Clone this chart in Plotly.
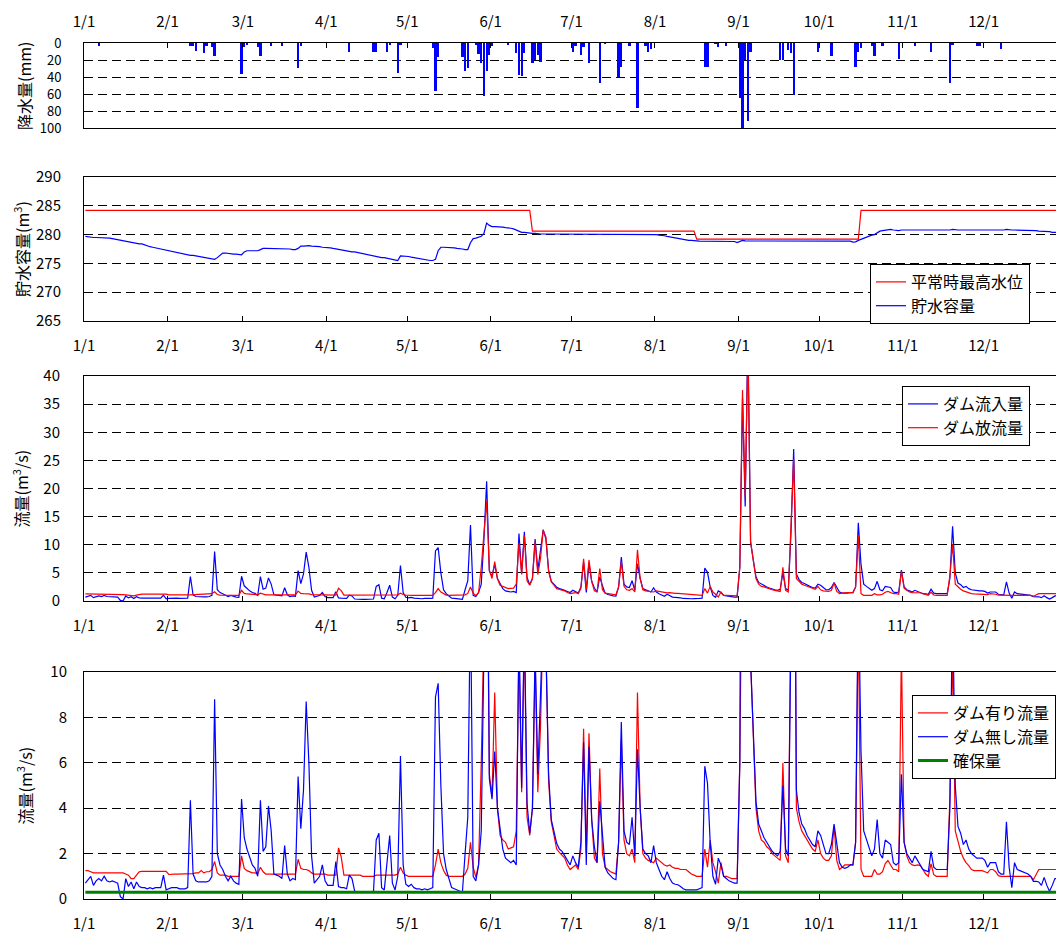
import plotly.graph_objects as go

W, H = 1056, 933
FONT = "Noto Sans CJK JP"

MONTH_TICKS = [0, 31, 59, 90, 120, 151, 181, 212, 243, 273, 304, 334]
MONTH_LABELS = ["1/1", "2/1", "3/1", "4/1", "5/1", "6/1", "7/1", "8/1", "9/1", "10/1", "11/1", "12/1"]

# daily rainfall (mm), Jan 1 .. Dec 31
RAIN_MM = [
    0,0,0,0,0,3,0,0,0,0, 0,0,0,0,0,0,0,0,0,0, 0,0,0,0,0,0,0,0,0,0, 0,
    0,0,0,0,0,0,0,0,4,4, 9,0,0,12,4,0,5,15,0,0, 0,0,0,0,0,0,0,37,
    5,2,0,0,0,5,15,0,0,0, 3,0,0,0,4,0,0,0,0,0, 29,3,0,0,0,0,0,0,0,0, 0,
    0,0,0,0,0,0,0,0,10,0, 0,0,0,0,0,0,0,10,11,0, 0,0,11,2,0,0,35,2,0,0,
    0,0,0,0,0,0,0,0,0,6, 57,16,0,0,0,0,0,0,0,0, 17,33,29,0,0,2,13,24,62,33, 14,
    3,0,0,0,0,0,2,0,0,12, 38,39,12,0,0,24,20,14,22,0, 0,0,0,0,0,0,0,0,0,0,
    11,4,0,14,5,0,23,0,0,0, 47,0,1,0,0,0,0,40,28,0, 0,3,0,0,77,0,0,4,11,7, 0,
    0,0,0,0,0,0,0,0,0,0, 0,0,0,0,0,0,0,0,28,28, 0,0,1,5,0,0,4,0,0,0, 0,
    65,103,20,92,11,0,0,0,0,0, 0,0,0,0,0,20,20,0,8,12, 61,0,0,0,0,0,0,0,0,10,
    0,0,0,0,15,0,0,0,0,0, 0,0,0,28,11,6,0,0,0,4, 15,0,0,3,0,0,0,0,0,19, 0,
    0,0,0,0,3,0,0,0,0,0, 11,0,0,0,0,0,0,47,2,0, 0,0,0,0,0,0,0,3,3,0,
    0,0,0,0,0,0,7,0,0,0, 0,0,0,0,0,0,0,0,0,0, 0,0,0,0,0,0,0,0,0,0, 0,
]

# normal-time maximum water level (storage units)
MAX_LEVEL = [
    284.2,284.2,284.2,284.2,284.2,284.2,284.2,284.2,284.2,284.2, 284.2,284.2,284.2,284.2,284.2,284.2,284.2,284.2,284.2,284.2, 284.2,284.2,284.2,284.2,284.2,284.2,284.2,284.2,284.2,284.2, 284.2,
    284.2,284.2,284.2,284.2,284.2,284.2,284.2,284.2,284.2,284.2, 284.2,284.2,284.2,284.2,284.2,284.2,284.2,284.2,284.2,284.2, 284.2,284.2,284.2,284.2,284.2,284.2,284.2,284.2,
    284.2,284.2,284.2,284.2,284.2,284.2,284.2,284.2,284.2,284.2, 284.2,284.2,284.2,284.2,284.2,284.2,284.2,284.2,284.2,284.2, 284.2,284.2,284.2,284.2,284.2,284.2,284.2,284.2,284.2,284.2, 284.2,
    284.2,284.2,284.2,284.2,284.2,284.2,284.2,284.2,284.2,284.2, 284.2,284.2,284.2,284.2,284.2,284.2,284.2,284.2,284.2,284.2, 284.2,284.2,284.2,284.2,284.2,284.2,284.2,284.2,284.2,284.2,
    284.2,284.2,284.2,284.2,284.2,284.2,284.2,284.2,284.2,284.2, 284.2,284.2,284.2,284.2,284.2,284.2,284.2,284.2,284.2,284.2, 284.2,284.2,284.2,284.2,284.2,284.2,284.2,284.2,284.2,284.2, 284.2,
    284.2,284.2,284.2,284.2,284.2,284.2,284.2,284.2,284.2,284.2, 284.2,284.2,284.2,284.2,284.2,280.6,280.6,280.6,280.6,280.6, 280.6,280.6,280.6,280.6,280.6,280.6,280.6,280.6,280.6,280.6,
    280.6,280.6,280.6,280.6,280.6,280.6,280.6,280.6,280.6,280.6, 280.6,280.6,280.6,280.6,280.6,280.6,280.6,280.6,280.6,280.6, 280.6,280.6,280.6,280.6,280.6,280.6,280.6,280.6,280.6,280.6, 280.6,
    280.6,280.6,280.6,280.6,280.6,280.6,280.6,280.6,280.6,280.6, 280.6,280.6,280.6,280.6,280.6,279.2,279.2,279.2,279.2,279.2, 279.2,279.2,279.2,279.2,279.2,279.2,279.2,279.2,279.2,279.2, 279.2,
    279.2,279.2,279.2,279.2,279.2,279.2,279.2,279.2,279.2,279.2, 279.2,279.2,279.2,279.2,279.2,279.2,279.2,279.2,279.2,279.2, 279.2,279.2,279.2,279.2,279.2,279.2,279.2,279.2,279.2,279.2,
    279.2,279.2,279.2,279.2,279.2,279.2,279.2,279.2,279.2,279.2, 279.2,279.2,279.2,279.2,279.2,284.2,284.2,284.2,284.2,284.2, 284.2,284.2,284.2,284.2,284.2,284.2,284.2,284.2,284.2,284.2, 284.2,
    284.2,284.2,284.2,284.2,284.2,284.2,284.2,284.2,284.2,284.2, 284.2,284.2,284.2,284.2,284.2,284.2,284.2,284.2,284.2,284.2, 284.2,284.2,284.2,284.2,284.2,284.2,284.2,284.2,284.2,284.2,
    284.2,284.2,284.2,284.2,284.2,284.2,284.2,284.2,284.2,284.2, 284.2,284.2,284.2,284.2,284.2,284.2,284.2,284.2,284.2,284.2, 284.2,284.2,284.2,284.2,284.2,284.2,284.2,284.2,284.2,284.2, 284.2,
]

# storage volume
STORAGE = [
    279.7,279.6,279.5,279.5,279.5,279.5,279.5,279.4,279.4,279.4, 279.3,279.2,279.1,279.0,278.9,278.8,278.7,278.6,278.6,278.5, 278.4,278.4,278.2,278.1,277.9,277.8,277.7,277.6,277.4,277.3, 277.2,
    277.1,277.0,276.9,276.8,276.7,276.6,276.5,276.5,276.4,276.4, 276.3,276.2,276.1,276.1,276.0,275.9,275.8,275.7,276.0,276.4, 276.8,276.8,276.7,276.7,276.6,276.6,276.5,276.5,
    277.0,277.2,277.2,277.2,277.2,277.2,277.4,277.6,277.6,277.6, 277.6,277.6,277.6,277.6,277.6,277.6,277.6,277.5,277.4,277.4, 277.6,278.0,278.0,278.1,278.1,278.0,278.0,278.0,277.9,277.8, 277.8,
    277.7,277.7,277.6,277.5,277.4,277.3,277.2,277.2,277.1,277.0, 277.0,276.9,276.8,276.7,276.5,276.4,276.3,276.2,276.2,276.1, 276.0,276.0,275.9,275.8,275.7,275.6,275.5,276.3,276.3,276.2,
    276.2,276.1,276.0,275.9,275.9,275.8,275.7,275.6,275.5,275.5, 275.7,277.2,277.8,277.8,277.8,277.7,277.7,277.7,277.6,277.6, 277.5,277.4,277.4,278.6,279.3,279.4,279.6,279.7,280.2,282.0, 281.6,
    281.4,281.4,281.4,281.4,281.3,281.2,281.2,281.1,281.0,280.8, 280.6,280.4,280.4,280.3,280.2,280.2,280.2,280.1,280.1,280.1, 280.1,280.0,280.0,280.0,280.0,280.0,280.0,280.0,280.0,280.0,
    280.0,280.1,280.0,280.0,280.1,280.0,280.1,280.0,280.0,280.0, 280.1,280.0,280.0,280.0,280.0,280.0,280.0,280.1,280.0,280.0, 280.0,280.0,280.1,280.0,280.0,280.0,280.0,280.0,280.0,280.0, 280.0,
    280.0,279.9,279.9,279.8,279.7,279.6,279.5,279.4,279.4,279.3, 279.2,279.1,279.0,279.0,278.9,278.9,278.85,278.85,278.9,278.9, 278.85,278.85,278.85,278.85,278.85,278.85,278.85,278.85,278.8,278.8, 278.6,
    278.8,279.0,278.9,278.9,278.85,278.85,278.8,278.85,278.9,278.85, 278.85,278.85,278.8,278.85,278.85,278.85,278.9,278.85,278.85,278.85, 278.9,278.85,278.85,278.85,278.85,278.85,278.85,278.85,278.85,278.85,
    278.85,278.85,278.85,278.85,278.85,278.85,278.85,278.85,278.85,278.85, 278.85,278.85,278.7,278.75,279.0,279.2,279.4,279.6,279.8,279.9, 280.0,280.3,280.6,280.7,280.8,280.9,280.9,280.8,280.7,280.7, 280.8,
    280.8,280.7,280.8,280.8,280.8,280.7,280.8,280.8,280.8,280.8, 280.7,280.8,280.8,280.8,280.8,280.8,280.8,280.8,280.9,280.8, 280.8,280.8,280.8,280.8,280.7,280.8,280.8,280.8,280.8,280.8,
    280.8,280.8,280.8,280.8,280.8,280.8,280.8,280.8,280.9,280.8, 280.8,280.8,280.8,280.8,280.8,280.8,280.8,280.8,280.7,280.7, 280.6,280.6,280.6,280.5,280.5,280.4,280.4,280.4,280.3,280.3, 280.3,
]

# dam inflow (= flow without dam), m3/s
DAM_INFLOW = [
    0.7,0.85,1.0,0.6,0.8,0.9,0.8,1.0,0.8,0.75, 0.8,0.75,0.7,0.1,0.0,0.9,0.55,0.75,0.45,0.75, 0.55,0.5,0.5,0.45,0.5,0.45,0.5,0.5,0.5,1.05, 0.4,
    0.45,0.5,0.5,0.5,0.45,0.45,0.45,0.5,4.35,1.1, 0.8,0.75,0.75,0.75,0.75,0.8,1.0,8.8,2.0,1.5, 1.3,1.0,0.8,1.0,0.8,0.7,0.65,4.4,
    2.7,2.2,1.8,1.5,1.35,1.0,4.35,2.1,2.3,4.1, 3.0,1.1,1.05,1.0,0.9,2.35,1.1,0.8,0.9,0.85, 5.4,3.1,4.8,8.7,6.0,1.9,0.7,0.85,1.0,1.5, 0.8,
    0.6,0.6,0.6,1.65,0.55,0.5,0.5,0.45,1.05,0.9, 0.35,0.3,0.3,0.3,0.3,0.3,0.3,0.35,2.6,2.9, 0.5,0.4,1.5,2.8,0.7,0.4,1.0,6.3,1.5,0.65,
    0.55,0.65,0.5,0.45,0.45,0.4,0.45,0.4,0.45,0.5, 8.9,9.5,5.0,2.0,1.3,0.9,0.5,0.45,0.4,0.35, 0.3,2.0,3.6,13.5,1.0,0.8,1.5,3.0,11.0,21.3, 5.3,
    4.4,6.5,4.0,3.0,2.2,1.8,1.7,1.6,1.7,1.5, 12.0,4.9,12.3,4.2,2.9,4.0,11.0,5.5,9.0,12.7, 11.0,5.5,3.5,3.0,2.45,2.2,2.1,1.9,1.7,1.5,
    1.9,1.6,1.4,2.5,6.9,1.5,6.7,3.5,2.3,1.6, 4.3,2.7,1.4,1.15,1.0,0.9,0.85,2.5,7.8,3.0, 2.5,2.4,3.6,1.9,6.6,4.0,2.2,2.0,1.9,1.6, 2.35,
    1.6,1.3,1.0,0.85,1.2,0.9,0.7,0.65,0.63,0.55, 0.45,0.4,0.4,0.4,0.42,0.4,0.45,0.5,5.85,5.1, 2.5,1.0,0.65,1.8,1.5,1.0,0.9,0.8,0.75,0.7, 0.7,
    6.0,36.0,16.8,48.0,10.5,7.3,4.3,3.3,3.0,2.7, 2.5,2.3,2.1,2.0,1.9,2.1,5.0,2.2,1.9,12.0, 27.0,4.8,3.8,3.3,3.1,2.8,2.6,2.4,2.3,3.0,
    2.8,2.4,2.0,2.0,2.4,3.3,2.5,1.6,1.4,1.35, 1.4,1.5,1.5,2.5,13.9,6.5,3.0,2.6,2.2,1.9, 2.2,3.5,2.0,1.8,2.6,2.5,2.4,1.6,1.5,1.6, 5.5,
    2.5,2.0,1.8,1.6,1.9,1.7,1.5,1.3,1.25,1.2, 2.1,1.4,1.3,1.3,1.3,1.3,1.3,4.0,13.3,5.0, 3.2,2.9,2.4,2.6,2.2,2.0,1.9,1.8,1.8,1.8,
    1.7,1.4,1.6,1.6,1.6,1.2,1.1,1.1,3.4,1.4, 0.5,1.6,1.3,1.25,1.2,1.15,1.1,1.0,0.78,0.78, 0.75,0.6,0.95,0.6,0.34,0.6,0.9,0.9,0.9,0.9, 0.9,
]
FLOW_WITHOUT_DAM = DAM_INFLOW

# dam release, m3/s
DAM_OUTFLOW = [
    1.25,1.25,1.2,1.15,1.15,1.15,1.15,1.15,1.15,1.15, 1.15,1.15,1.15,1.15,1.15,1.1,1.05,0.9,0.9,1.05, 1.2,1.22,1.22,1.22,1.22,1.22,1.22,1.22,1.22,1.22, 1.22,
    1.08,1.1,1.1,1.1,1.1,1.1,1.1,1.1,1.1,1.12, 1.15,1.15,1.25,1.15,1.2,1.2,1.3,1.65,1.15,1.05, 1.05,1.05,1.0,1.0,1.0,1.0,1.0,1.9,
    1.35,1.25,1.2,1.15,1.15,1.1,1.4,1.2,1.1,1.1, 1.1,1.1,1.1,1.1,1.1,1.1,1.1,1.1,1.1,1.1, 1.75,1.35,1.3,1.3,1.25,1.15,1.1,1.1,1.1,1.1, 1.1,
    1.05,1.05,1.05,1.05,2.25,1.85,1.05,1.05,1.05,1.05, 1.05,1.05,1.05,1.0,1.0,1.0,1.0,1.0,1.05,1.05, 1.05,1.05,1.05,1.05,1.05,1.05,1.1,1.4,1.15,1.05,
    1.0,1.0,1.0,1.0,1.0,1.0,1.0,1.0,1.0,1.0, 1.5,2.2,1.6,1.25,1.05,1.0,1.0,1.0,1.0,1.0, 1.0,1.1,1.35,2.5,1.4,0.95,1.5,6.0,12.0,17.8, 5.5,
    4.0,7.0,4.0,2.8,2.6,2.5,2.2,2.25,2.3,3.0, 10.3,4.7,11.7,3.6,2.8,4.0,10.5,4.7,7.6,12.6, 11.4,5.2,3.4,2.8,2.2,2.05,1.9,1.8,1.5,1.3,
    1.4,1.5,1.3,2.2,7.5,2.0,7.3,3.5,1.8,1.6, 5.75,2.0,1.4,1.3,1.2,1.15,1.1,2.5,7.0,2.6, 2.0,1.9,2.2,1.6,9.1,4.0,2.0,1.8,1.7,1.65, 1.6,
    1.8,1.7,1.6,1.5,1.45,1.5,1.4,1.35,1.35,1.3, 1.3,1.3,1.2,1.1,1.05,1.0,1.0,1.0,2.2,1.4, 2.6,1.6,1.2,0.7,1.6,1.0,1.0,0.95,0.9,0.9, 0.9,
    6.0,37.5,18.5,45.0,10.5,7.0,4.0,3.0,2.6,2.5, 2.3,2.2,2.0,1.9,1.8,1.7,6.0,1.9,1.6,12.5, 25.2,4.0,3.4,3.0,2.8,2.6,2.4,2.2,2.1,2.6,
    2.0,1.8,1.7,1.7,1.9,3.2,1.7,1.3,1.4,1.5, 1.5,1.5,1.5,2.5,11.7,1.3,1.0,1.0,1.0,1.0, 1.3,1.1,1.1,1.2,1.56,1.7,1.5,1.3,1.3,1.2, 5.3,
    2.3,1.9,1.6,1.5,1.47,1.5,1.47,1.3,1.1,1.0, 1.56,1.07,1.0,1.0,1.0,1.0,1.0,4.5,10.1,3.0, 2.5,2.1,1.8,1.6,1.47,1.3,1.25,1.25,1.25,1.25,
    1.2,1.15,1.3,1.3,1.2,1.03,1.0,1.0,1.0,1.0, 1.0,1.0,1.0,1.0,1.0,1.0,1.0,1.0,0.85,1.1, 1.3,1.3,1.3,1.3,1.3,1.3,1.3,1.3,1.3,1.3, 1.3,
]

# flow with dam (downstream), m3/s
FLOW_WITH_DAM = [
    1.25,1.25,1.2,1.15,1.15,1.15,1.15,1.15,1.15,1.15, 1.15,1.15,1.15,1.15,1.15,1.1,1.05,0.9,0.9,1.05, 1.2,1.22,1.22,1.22,1.22,1.22,1.22,1.22,1.22,1.22, 1.22,
    1.08,1.1,1.1,1.1,1.1,1.1,1.1,1.1,1.1,1.12, 1.15,1.15,1.25,1.15,1.2,1.2,1.3,1.65,1.15,1.05, 1.05,1.05,1.0,1.0,1.0,1.0,1.0,1.9,
    1.35,1.25,1.2,1.15,1.15,1.1,1.4,1.2,1.1,1.1, 1.1,1.1,1.1,1.1,1.1,1.1,1.1,1.1,1.1,1.1, 1.75,1.35,1.3,1.3,1.25,1.15,1.1,1.1,1.1,1.1, 1.1,
    1.05,1.05,1.05,1.05,2.25,1.85,1.05,1.05,1.05,1.05, 1.05,1.05,1.05,1.0,1.0,1.0,1.0,1.0,1.05,1.05, 1.05,1.05,1.05,1.05,1.05,1.05,1.1,1.4,1.15,1.05,
    1.0,1.0,1.0,1.0,1.0,1.0,1.0,1.0,1.0,1.0, 1.5,2.2,1.6,1.25,1.05,1.0,1.0,1.0,1.0,1.0, 1.0,1.1,1.35,2.5,1.4,0.95,1.5,6.0,12.0,18.0, 5.5,
    4.5,9.1,4.0,2.8,2.6,2.5,2.2,2.25,2.3,3.0, 11.0,4.7,11.7,3.6,2.8,4.0,10.5,4.7,7.6,12.6, 11.4,5.2,3.4,2.8,2.2,2.05,1.9,1.8,1.5,1.3,
    1.4,1.5,1.3,2.2,7.5,2.0,7.3,3.5,1.8,1.6, 5.75,2.0,1.4,1.3,1.2,1.15,1.1,2.5,7.0,2.6, 2.0,1.9,2.2,1.6,9.1,4.0,2.0,1.8,1.7,1.65, 1.6,
    1.8,1.7,1.6,1.5,1.45,1.5,1.4,1.35,1.35,1.3, 1.3,1.3,1.2,1.1,1.05,1.0,1.0,1.0,2.2,1.4, 2.6,1.6,1.2,0.7,1.6,1.0,1.0,0.95,0.9,0.9, 0.9,
    6.0,37.5,18.5,42.0,10.5,7.0,4.0,3.0,2.6,2.5, 2.3,2.2,2.0,1.9,1.8,1.7,6.0,1.9,1.6,12.5, 25.0,4.0,3.4,3.0,2.8,2.6,2.4,2.2,2.1,2.6,
    2.0,1.8,1.7,1.7,1.9,3.2,1.7,1.3,1.4,1.5, 1.5,1.5,1.5,2.5,12.5,1.3,1.0,1.0,1.0,1.0, 1.3,1.1,1.1,1.2,1.56,1.7,1.5,1.3,1.3,1.2, 11.0,
    2.5,1.9,1.6,1.5,1.47,1.5,1.47,1.3,1.1,1.0, 1.56,1.07,1.0,1.0,1.0,1.0,1.0,4.5,11.0,3.0, 2.5,2.1,1.8,1.6,1.47,1.3,1.25,1.25,1.25,1.25,
    1.2,1.15,1.3,1.3,1.2,1.03,1.0,1.0,1.0,1.0, 1.0,1.0,1.0,1.0,1.0,1.0,1.0,1.0,0.85,1.1, 1.3,1.3,1.3,1.3,1.3,1.3,1.3,1.3,1.3,1.3, 1.3,
]

# assured (maintenance) flow, m3/s
ASSURED_FLOW = [
    0.3,0.3,0.3,0.3,0.3,0.3,0.3,0.3,0.3,0.3, 0.3,0.3,0.3,0.3,0.3,0.3,0.3,0.3,0.3,0.3, 0.3,0.3,0.3,0.3,0.3,0.3,0.3,0.3,0.3,0.3, 0.3,
    0.3,0.3,0.3,0.3,0.3,0.3,0.3,0.3,0.3,0.3, 0.3,0.3,0.3,0.3,0.3,0.3,0.3,0.3,0.3,0.3, 0.3,0.3,0.3,0.3,0.3,0.3,0.3,0.3,
    0.3,0.3,0.3,0.3,0.3,0.3,0.3,0.3,0.3,0.3, 0.3,0.3,0.3,0.3,0.3,0.3,0.3,0.3,0.3,0.3, 0.3,0.3,0.3,0.3,0.3,0.3,0.3,0.3,0.3,0.3, 0.3,
    0.3,0.3,0.3,0.3,0.3,0.3,0.3,0.3,0.3,0.3, 0.3,0.3,0.3,0.3,0.3,0.3,0.3,0.3,0.3,0.3, 0.3,0.3,0.3,0.3,0.3,0.3,0.3,0.3,0.3,0.3,
    0.3,0.3,0.3,0.3,0.3,0.3,0.3,0.3,0.3,0.3, 0.3,0.3,0.3,0.3,0.3,0.3,0.3,0.3,0.3,0.3, 0.3,0.3,0.3,0.3,0.3,0.3,0.3,0.3,0.3,0.3, 0.3,
    0.3,0.3,0.3,0.3,0.3,0.3,0.3,0.3,0.3,0.3, 0.3,0.3,0.3,0.3,0.3,0.3,0.3,0.3,0.3,0.3, 0.3,0.3,0.3,0.3,0.3,0.3,0.3,0.3,0.3,0.3,
    0.3,0.3,0.3,0.3,0.3,0.3,0.3,0.3,0.3,0.3, 0.3,0.3,0.3,0.3,0.3,0.3,0.3,0.3,0.3,0.3, 0.3,0.3,0.3,0.3,0.3,0.3,0.3,0.3,0.3,0.3, 0.3,
    0.3,0.3,0.3,0.3,0.3,0.3,0.3,0.3,0.3,0.3, 0.3,0.3,0.3,0.3,0.3,0.3,0.3,0.3,0.3,0.3, 0.3,0.3,0.3,0.3,0.3,0.3,0.3,0.3,0.3,0.3, 0.3,
    0.3,0.3,0.3,0.3,0.3,0.3,0.3,0.3,0.3,0.3, 0.3,0.3,0.3,0.3,0.3,0.3,0.3,0.3,0.3,0.3, 0.3,0.3,0.3,0.3,0.3,0.3,0.3,0.3,0.3,0.3,
    0.3,0.3,0.3,0.3,0.3,0.3,0.3,0.3,0.3,0.3, 0.3,0.3,0.3,0.3,0.3,0.3,0.3,0.3,0.3,0.3, 0.3,0.3,0.3,0.3,0.3,0.3,0.3,0.3,0.3,0.3, 0.3,
    0.3,0.3,0.3,0.3,0.3,0.3,0.3,0.3,0.3,0.3, 0.3,0.3,0.3,0.3,0.3,0.3,0.3,0.3,0.3,0.3, 0.3,0.3,0.3,0.3,0.3,0.3,0.3,0.3,0.3,0.3,
    0.3,0.3,0.3,0.3,0.3,0.3,0.3,0.3,0.3,0.3, 0.3,0.3,0.3,0.3,0.3,0.3,0.3,0.3,0.3,0.3, 0.3,0.3,0.3,0.3,0.3,0.3,0.3,0.3,0.3,0.3, 0.3,
]

for _name, _s in [("RAIN_MM", RAIN_MM), ("MAX_LEVEL", MAX_LEVEL), ("STORAGE", STORAGE),
                  ("DAM_INFLOW", DAM_INFLOW), ("DAM_OUTFLOW", DAM_OUTFLOW),
                  ("FLOW_WITH_DAM", FLOW_WITH_DAM), ("ASSURED_FLOW", ASSURED_FLOW)]:
    assert len(_s) == 365, (_name, len(_s))

DAY_X = [d + 0.5 for d in range(365)]

# ---------------- layout geometry (pixels) ----------------
X_LEFT = 84
X_RANGE = [0, 360.9]
P1 = (43, 128)
P2 = (177, 321)
P3 = (376, 601)
P4 = (672, 899)


def ydom(p):
    return [1 - p[1] / H, 1 - p[0] / H]


BLUE = "#0000FF"
RED = "#FF0000"
GREEN = "#008000"
TICKFONT = dict(family=FONT, size=15, color="#000")


def xaxis(anchor, side, standoff):
    return dict(domain=[X_LEFT / W, 1.0], anchor=anchor, side=side, range=X_RANGE,
                tickmode="array", tickvals=MONTH_TICKS, ticktext=MONTH_LABELS,
                ticks="inside", ticklen=5, tickwidth=1, tickcolor="#000",
                showline=True, linecolor="#000", linewidth=1, mirror=True,
                showgrid=False, zeroline=False, tickfont=TICKFONT,
                ticklabelstandoff=standoff, automargin=False, fixedrange=True)


def yaxis(anchor, p, rng, tick0, dtick, standoff, size=15):
    return dict(domain=ydom(p), anchor=anchor, range=rng, tickmode="linear",
                tick0=tick0, dtick=dtick, ticks="", showline=True, linecolor="#000",
                linewidth=1, mirror=False, showgrid=True, gridcolor="#000", gridwidth=1,
                griddash="9px,5px", zeroline=False,
                tickfont=dict(family=FONT, size=size, color="#000"),
                ticklabelstandoff=standoff, automargin=False, fixedrange=True)


fig = go.Figure()

# panel 1: rainfall
fig.add_trace(go.Bar(x=DAY_X, y=RAIN_MM, width=0.85, marker=dict(color=BLUE, line=dict(width=0)),
                     xaxis="x", yaxis="y", showlegend=False))

# panel 2: storage
fig.add_trace(go.Scatter(x=DAY_X, y=MAX_LEVEL, mode="lines", name="平常時最高水位",
                         line=dict(color=RED, width=1.2), xaxis="x2", yaxis="y2", legend="legend"))
fig.add_trace(go.Scatter(x=DAY_X, y=STORAGE, mode="lines", name="貯水容量",
                         line=dict(color=BLUE, width=1.2), xaxis="x2", yaxis="y2", legend="legend"))

# panel 3: dam inflow / outflow
fig.add_trace(go.Scatter(x=DAY_X, y=DAM_INFLOW, mode="lines", name="ダム流入量",
                         line=dict(color=BLUE, width=1.2), xaxis="x3", yaxis="y3", legend="legend2"))
fig.add_trace(go.Scatter(x=DAY_X, y=DAM_OUTFLOW, mode="lines", name="ダム放流量",
                         line=dict(color=RED, width=1.2), xaxis="x3", yaxis="y3", legend="legend2"))

# panel 4: downstream flow
fig.add_trace(go.Scatter(x=DAY_X, y=FLOW_WITH_DAM, mode="lines", name="ダム有り流量",
                         line=dict(color=RED, width=1.2), xaxis="x4", yaxis="y4", legend="legend3"))
fig.add_trace(go.Scatter(x=DAY_X, y=FLOW_WITHOUT_DAM, mode="lines", name="ダム無し流量",
                         line=dict(color=BLUE, width=1.2), xaxis="x4", yaxis="y4", legend="legend3"))
fig.add_trace(go.Scatter(x=DAY_X, y=ASSURED_FLOW, mode="lines", name="確保量",
                         line=dict(color=GREEN, width=3), xaxis="x4", yaxis="y4", legend="legend3"))

legend_common = dict(bgcolor="white", bordercolor="#000", borderwidth=1,
                     font=dict(family=FONT, size=16, color="#000"),
                     xanchor="left", yanchor="top", tracegroupgap=0, itemwidth=30)

ytitle_font = dict(family=FONT, size=16, color="#000")
annotations = [
    dict(text="降水量(mm)", x=24 / W, y=1 - 86 / H),
    dict(text="貯水容量(m<sup>3</sup>)", x=21 / W, y=1 - 249 / H),
    dict(text="流量(m<sup>3</sup>/s)", x=21 / W, y=1 - 488.5 / H),
    dict(text="流量(m<sup>3</sup>/s)", x=25 / W, y=1 - 785.5 / H),
]
annotations = [dict(a, xref="paper", yref="paper", textangle=-90, showarrow=False,
                    xanchor="center", yanchor="middle", font=ytitle_font) for a in annotations]

fig.update_layout(
    width=W, height=H,
    margin=dict(l=0, r=0, t=0, b=0, autoexpand=False),
    paper_bgcolor="white", plot_bgcolor="white",
    font=dict(family=FONT, color="#000"),
    showlegend=True,
    xaxis=xaxis("y", "top", 9),
    xaxis2=xaxis("y2", "bottom", 11),
    xaxis3=xaxis("y3", "bottom", 11),
    xaxis4=xaxis("y4", "bottom", 11),
    yaxis=yaxis("x", P1, [100, 0], 0, 20, 19, size=13),
    yaxis2=yaxis("x2", P2, [265, 290], 265, 5, 19),
    yaxis3=yaxis("x3", P3, [0, 40], 0, 5, 20),
    yaxis4=yaxis("x4", P4, [0, 10], 0, 2, 13),
    legend=dict(legend_common, x=870 / W, y=1 - 264 / H),
    legend2=dict(legend_common, x=902 / W, y=1 - 386 / H),
    legend3=dict(legend_common, x=912 / W, y=1 - 695 / H),
    annotations=annotations,
    bargap=0,
)

fig.write_html("out.html", include_plotlyjs=True, config={"displayModeBar": False})
